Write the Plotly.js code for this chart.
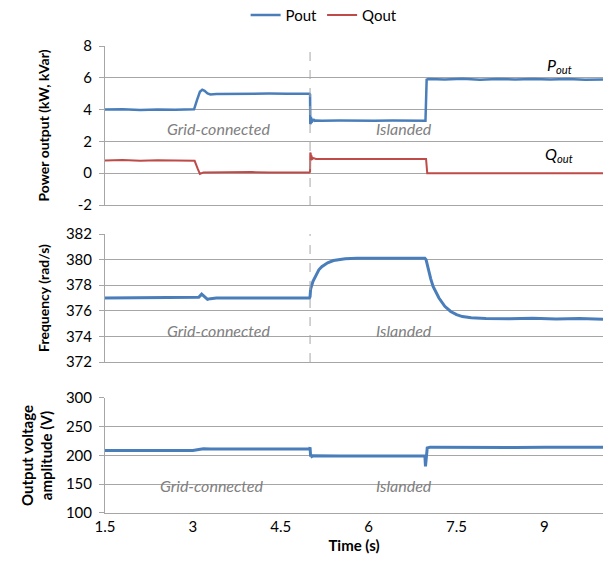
<!DOCTYPE html>
<html>
<head>
<meta charset="utf-8">
<script src="https://cdn.plot.ly/plotly-3.0.1.min.js"></script>
<style>html,body{margin:0;padding:0;background:#fff;}#chart{width:608px;height:566px;}</style>
</head>
<body>
<div id="chart"></div>
<script>
// ---- Data ----
const islandTime = 5.0;

// Active power Pout (kW)
const tP = [1.5, 1.8, 2.1, 2.4, 2.7, 3.0, 3.02, 3.07, 3.12, 3.16, 3.2, 3.25, 3.3, 3.4, 3.7, 4.0, 4.3, 4.6, 4.99,
            5.0, 5.004, 5.008, 5.012, 5.016, 5.02, 5.025, 5.03, 5.04, 5.05, 5.06, 5.08, 5.1, 5.2, 5.5, 5.8, 6.1, 6.4, 6.7, 6.97,
            6.99, 7.02, 7.3, 7.6, 7.9, 8.2, 8.5, 8.8, 9.1, 9.4, 9.7, 10.0];
const pOut = [4.0, 4.02, 3.98, 4.01, 3.99, 4.0, 4.02, 4.6, 5.12, 5.25, 5.18, 5.02, 4.95, 4.98, 5.0, 4.99, 5.01, 5.0, 5.0,
              4.95, 3.1, 3.62, 3.15, 3.55, 3.2, 3.48, 3.22, 3.42, 3.26, 3.38, 3.3, 3.32, 3.3, 3.31, 3.29, 3.3, 3.31, 3.3, 3.3,
              5.88, 5.92, 5.9, 5.94, 5.88, 5.92, 5.9, 5.93, 5.89, 5.92, 5.88, 5.9];

// Reactive power Qout (kVar)
const tQ = [1.5, 1.8, 2.1, 2.4, 2.7, 3.0, 3.03, 3.08, 3.12, 3.18, 3.4, 3.7, 4.0, 4.3, 4.6, 4.99,
            5.0, 5.004, 5.008, 5.012, 5.016, 5.02, 5.025, 5.03, 5.04, 5.06, 5.1, 5.5, 6.0, 6.5, 6.98,
            7.0, 7.02, 7.5, 8.0, 9.0, 10.0];
const qOut = [0.8, 0.83, 0.78, 0.82, 0.8, 0.8, 0.78, 0.3, -0.05, 0.05, 0.06, 0.04, 0.07, 0.05, 0.06, 0.05,
              0.1, 1.3, 0.75, 1.22, 0.8, 1.12, 0.85, 1.02, 0.9, 0.95, 0.9, 0.9, 0.9, 0.9, 0.9,
              0.0, 0.0, 0.0, 0.0, 0.0, 0.0];

// Frequency (rad/s)
const tF = [1.5, 2.0, 2.5, 3.0, 3.1, 3.15, 3.2, 3.25, 3.3, 3.4, 3.8, 4.3, 4.99,
            5.0, 5.01, 5.05, 5.1, 5.15, 5.2, 5.3, 5.4, 5.5, 5.6, 5.8, 6.0, 6.5, 6.96,
            6.98, 7.02, 7.06, 7.1, 7.2, 7.3, 7.4, 7.5, 7.6, 7.75, 8.0, 8.4, 8.8, 9.2, 9.6, 10.0];
const freq = [377.0, 377.0, 377.0, 377.0, 377.05, 377.3, 377.1, 376.9, 376.95, 377.0, 377.0, 377.0, 377.0,
              377.1, 377.7, 378.3, 378.8, 379.2, 379.45, 379.75, 379.93, 380.02, 380.06, 380.1, 380.1, 380.1, 380.1,
              380.0, 379.2, 378.5, 377.9, 377.0, 376.35, 375.95, 375.7, 375.55, 375.45, 375.4, 375.38, 375.42, 375.36, 375.4, 375.35];

// Output voltage amplitude (V)
const tV = [1.5, 2.0, 2.5, 3.0, 3.1, 3.18, 3.3, 3.8, 4.3, 4.99,
            5.0, 5.01, 5.02, 5.03, 5.05, 5.5, 6.0, 6.5, 6.96,
            6.97, 6.985, 7.0, 7.05, 7.5, 8.0, 8.5, 9.0, 9.5, 10.0];
const vOut = [208.5, 208.5, 208.5, 208.7, 210.5, 211.8, 211.2, 211.3, 211.4, 211.5,
              214.0, 198.0, 201.0, 198.5, 199.5, 199.0, 199.5, 199.0, 199.2,
              181.0, 198.0, 213.0, 214.5, 214.0, 214.5, 213.8, 214.3, 214.0, 214.2];

const xTicks = [1.5, 3, 4.5, 6, 7.5, 9];
const powerTickVals = [-2, 0, 2, 4, 6, 8];
const powerTickText = ['-2', '0', '2', '4', '6', '8'];
const seriesNames = ['Pout', 'Qout'];

// ---- Styling ----
const BLUE = '#4a7ebb', RED = '#be4b48', GRID = '#a6a6a6', NOTE = '#808080';
const FONT = 'Lato, "Open Sans", sans-serif';

const traces = [
  {x: tP, y: pOut, name: seriesNames[0], type: 'scatter', mode: 'lines', line: {color: BLUE, width: 2.5}, xaxis: 'x', yaxis: 'y'},
  {x: tQ, y: qOut, name: seriesNames[1], type: 'scatter', mode: 'lines', line: {color: RED, width: 2}, xaxis: 'x', yaxis: 'y'},
  {x: tF, y: freq, name: 'Frequency', type: 'scatter', mode: 'lines', line: {color: BLUE, width: 3}, xaxis: 'x2', yaxis: 'y2', showlegend: false},
  {x: tV, y: vOut, name: 'Voltage', type: 'scatter', mode: 'lines', line: {color: BLUE, width: 3}, xaxis: 'x3', yaxis: 'y3', showlegend: false}
];

const yCommon = {
  showline: true, linecolor: GRID, linewidth: 1,
  showgrid: true, gridcolor: GRID, gridwidth: 1,
  zeroline: false, ticks: 'outside', ticklen: 5, tickcolor: GRID,
  ticklabelstandoff: 4,
  tickfont: {family: FONT, size: 15, color: '#000'},
  fixedrange: true
};
const xCommon = {
  range: [1.5, 10], showgrid: false, zeroline: false,
  showline: true, linecolor: GRID, linewidth: 1, ticks: '',
  tickvals: xTicks, tickfont: {family: FONT, size: 15, color: '#000'}
};
const titleFont = {family: FONT, size: 14, color: '#000', weight: 'bold'};
const bigTitleFont = {family: FONT, size: 15, color: '#000', weight: 'bold'};

const noteFont = {family: FONT, size: 16, color: NOTE, style: 'italic'};
function note(text, x, y, xref, yref) {
  return {text: text, x: x, y: y, xref: xref, yref: yref, showarrow: false, font: noteFont, xanchor: 'center', yanchor: 'middle'};
}

const layout = {
  width: 608, height: 566,
  margin: {l: 105, r: 5, t: 46, b: 53, autoexpand: false},
  paper_bgcolor: '#fff', plot_bgcolor: '#fff',
  font: {family: FONT, color: '#000'},
  showlegend: true,
  legend: {orientation: 'h', x: 0.44, xanchor: 'center', y: 1.066, yanchor: 'middle',
           font: {family: FONT, size: 15}, itemwidth: 30, tracegroupgap: 0},
  xaxis: Object.assign({}, xCommon, {anchor: 'y', showticklabels: false}),
  xaxis2: Object.assign({}, xCommon, {anchor: 'y2', matches: 'x', showticklabels: false}),
  xaxis3: Object.assign({}, xCommon, {anchor: 'y3', matches: 'x',
           title: {text: 'Time (s)', font: bigTitleFont, standoff: 6}}),
  yaxis: Object.assign({}, yCommon, {domain: [0.6595, 1], range: [-2, 8],
           tickmode: 'array', tickvals: powerTickVals, ticktext: powerTickText,
           title: {text: 'Power output (kW, kVar)', font: titleFont, standoff: 24}}),
  yaxis2: Object.assign({}, yCommon, {domain: [0.3233, 0.5974], range: [372, 382], dtick: 2, tick0: 372,
           title: {text: 'Frequency (rad/s)', font: titleFont, standoff: 12}}),
  yaxis3: Object.assign({}, yCommon, {domain: [0, 0.2463], range: [100, 300], dtick: 50, tick0: 100,
           title: {text: 'Output voltage<br>amplitude (V)', font: bigTitleFont, standoff: 9}}),
  shapes: [
    {type: 'line', xref: 'x', yref: 'y domain', x0: islandTime, x1: islandTime, y0: 0, y1: 1,
     line: {color: GRID, width: 1, dash: 'dash'}},
    {type: 'line', xref: 'x2', yref: 'y2 domain', x0: islandTime, x1: islandTime, y0: 0, y1: 1,
     line: {color: GRID, width: 1, dash: 'dash'}}
  ],
  annotations: [
    note('Grid-connected', 3.43, 2.8, 'x', 'y'),
    note('Islanded', 6.6, 2.8, 'x', 'y'),
    note('Grid-connected', 3.43, 374.5, 'x2', 'y2'),
    note('Islanded', 6.6, 374.5, 'x2', 'y2'),
    note('Grid-connected', 3.31, 147, 'x3', 'y3'),
    note('Islanded', 6.6, 147, 'x3', 'y3'),
    {text: '<i>P<sub>out</sub></i>', x: 9.25, y: 6.75, xref: 'x', yref: 'y', showarrow: false,
     font: {family: FONT, size: 16, color: '#000'}, xanchor: 'center', yanchor: 'middle'},
    {text: '<i>Q<sub>out</sub></i>', x: 9.25, y: 1.15, xref: 'x', yref: 'y', showarrow: false,
     font: {family: FONT, size: 16, color: '#000'}, xanchor: 'center', yanchor: 'middle'}
  ]
};

Plotly.newPlot('chart', traces, layout, {displayModeBar: false, staticPlot: true});
</script>
</body>
</html>
